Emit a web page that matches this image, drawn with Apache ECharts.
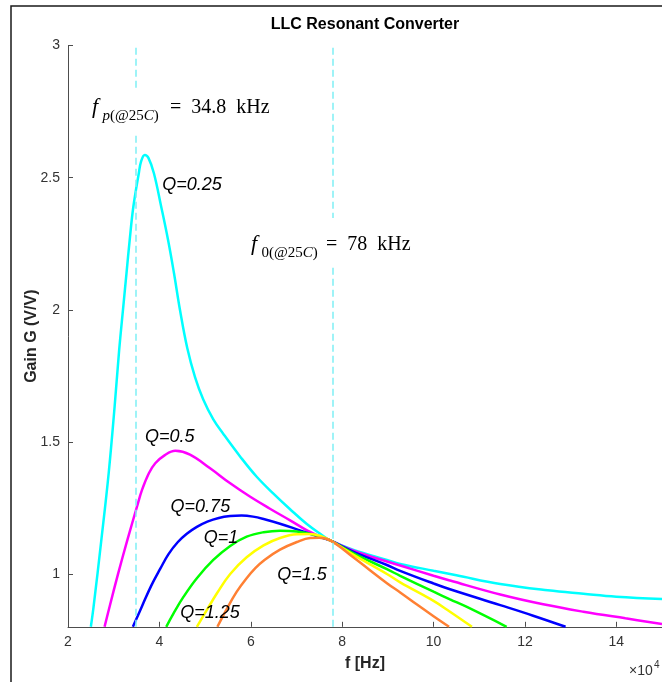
<!DOCTYPE html>
<html><head><meta charset="utf-8">
<script src="https://cdn.jsdelivr.net/npm/echarts@6/dist/echarts.min.js"></script>
<style>html,body{margin:0;padding:0;background:#fff}#c{width:662px;height:682px}</style>
</head><body><div id="c"></div>
<script>
// ---- data (frequency in Hz, gain in V/V) ----
const xTicks = [20000, 40000, 60000, 80000, 100000, 120000, 140000];
const yTicks = [1, 1.5, 2, 2.5, 3];
const markerFreqs = [34800, 78000];

const fQ025 = [25000,25600,27300,28900,30200,31200,32100,32800,33500,34300,35500,36000,36800,37600,38800,40400,41900,43200,44500,46100,47800,49600,51800,54000,57700,61300,64900,68600,72200,75200,77500,82500,89800,92700,100000,105000,114600,125000,132800,140000,150000];
const gQ025 = [0.80,0.876,1.129,1.381,1.633,1.848,2.012,2.138,2.264,2.39,2.517,2.562,2.586,2.575,2.517,2.39,2.264,2.138,2.0,1.855,1.745,1.66,1.585,1.53,1.444,1.368,1.305,1.245,1.19,1.152,1.126,1.091,1.053,1.038,1.012,0.995,0.962,0.938,0.925,0.914,0.905];

const fQ05 = [28000,29100,31000,33000,35100,36200,37700,39100,41200,43500,46700,51100,55500,59800,64200,68600,72300,75200,77500,82500,89800,92700,100000,103600,114600,124000,132800,142000,150000];
const gQ05 = [0.80,0.876,1.003,1.129,1.255,1.318,1.381,1.419,1.45,1.466,1.452,1.40,1.343,1.293,1.247,1.203,1.165,1.142,1.126,1.088,1.047,1.032,0.993,0.975,0.922,0.885,0.857,0.832,0.811];

const fQ075 = [34200,36200,38200,40200,42000,44000,46000,48200,50500,53000,55500,58000,60500,63000,66400,70100,73700,76000,77500,82500,89800,92700,100000,103600,114600,121800,128900];
const gQ075 = [0.80,0.878,0.955,1.02,1.075,1.12,1.152,1.178,1.198,1.212,1.219,1.221,1.217,1.207,1.19,1.169,1.148,1.135,1.126,1.084,1.034,1.012,0.964,0.942,0.882,0.842,0.80];

const fQ1 = [41500,43100,45300,48200,51800,55500,59100,62800,66400,70100,73700,76000,77500,82500,89800,92700,100000,103600,107300,116000];
const gQ1 = [0.80,0.851,0.914,0.984,1.053,1.106,1.141,1.158,1.164,1.161,1.149,1.136,1.126,1.078,1.018,0.993,0.933,0.904,0.875,0.80];

const fQ125 = [48200,50400,52600,55500,59100,62800,66400,70100,73000,75500,77500,82500,89800,92700,100000,103600,108400];
const gQ125 = [0.80,0.864,0.927,1.0,1.063,1.108,1.136,1.15,1.151,1.142,1.126,1.072,1.0,0.968,0.898,0.857,0.80];

const fQ15 = [52700,54700,56900,59000,61000,63000,66400,70100,73000,75000,77500,82500,89800,92700,96300,100000,103400];
const gQ15 = [0.80,0.866,0.932,0.982,1.022,1.053,1.092,1.121,1.136,1.137,1.126,1.062,0.965,0.93,0.885,0.84,0.80];

const qNames = ['Q=0.25','Q=0.5','Q=0.75','Q=1','Q=1.25','Q=1.5'];
const qLabelF = [47160, 42270, 48970, 53500, 51100, 71200];
const qLabelG = [2.472, 1.52, 1.252, 1.135, 0.851, 0.996];

// ---- styling ----
const curveColors = ['#00ffff','#ff00ff','#0000ff','#00ff00','#ffff00','#ff8033'];
const curves = [[fQ025,gQ025],[fQ05,gQ05],[fQ075,gQ075],[fQ1,gQ1],[fQ125,gQ125],[fQ15,gQ15]];
const sans = '"Liberation Sans", Arial, Helvetica, sans-serif';
const serif = '"Liberation Serif", "DejaVu Serif", serif';

const chart = echarts.init(document.getElementById('c'), null, {renderer:'canvas'});

const series = curves.map((c, i) => ({
  type: 'line', name: qNames[i], data: c[0].map((f, k) => [f, c[1][k]]),
  showSymbol: false, smooth: 0.4, z: 3,
  lineStyle: {color: curveColors[i], width: 2.5}, itemStyle: {color: curveColors[i]},
  silent: true
}));
series.push({
  type: 'line', data: [], z: 1, silent: true,
  markLine: {
    symbol: 'none', silent: true, animation: false,
    label: {show: false},
    lineStyle: {color: '#7ff0f5', type: [7, 4], width: 1.5},
    data: markerFreqs.map(f => ({xAxis: f}))
  }
});

// text placed with top alignment: y = baseline - 0.75*fontSize
function mathText(x, base, main, sub, rest, restX, subBase) {
  return [
    {type:'text', x: x, y: base - 16.5, z: 20, style:{text: main, font: 'italic 22px ' + serif, fill:'#000'}},
    {type:'text', x: x + 10.5, y: subBase - 11.25, z: 20, style:{text: sub, fill:'#000',
      rich:{i:{fontStyle:'italic', fontSize:15, fontFamily: serif, fill:'#000'}, r:{fontSize:15, fontFamily: serif, fill:'#000'}}}},
    {type:'text', x: restX, y: base - 15, z: 20, style:{text: rest, font: '20px ' + serif, fill:'#000'}}
  ];
}

const baseGraphics = [
  {type:'rect', z: 0, shape:{x:11, y:6, width:700, height:700}, style:{fill:'none', stroke:'#1a1a1a', lineWidth:1.5}},
  {type:'text', x: 365, y: 25, z: 20, style:{text:'LLC Resonant Converter', font:'bold 16px ' + sans, fill:'#000', textAlign:'center', textVerticalAlign:'middle'}},
  {type:'rect', z: 15, shape:{x:84, y:88, width:190, height:47}, style:{fill:'#fff'}},
  {type:'rect', z: 15, shape:{x:244, y:218, width:172, height:48}, style:{fill:'#fff'}},
  ...mathText(92, 113, 'f', '{i|p}{r|(@25}{i|C}{r|)}', '=\u200234.8\u2002kHz', 170, 119.5),
  ...mathText(251, 250, 'f', '{r|0(@25}{i|C}{r|)}', '=\u200278\u2002kHz', 326, 256.5),
  {type:'text', x: 629, y: 664, z: 20, style:{text:'\u00d710', font:'14px ' + sans, fill:'#333'}},
  {type:'text', x: 654, y: 660.5, z: 20, style:{text:'4', font:'10px ' + sans, fill:'#333'}}
];

chart.setOption({
  animation: false,
  backgroundColor: '#fff',
  grid: {left: 68, right: 0, top: 45.6, bottom: 55.2, containLabel: false},
  xAxis: {
    type: 'value', min: 20000, max: 150000,
    name: 'f [Hz]', nameLocation: 'middle', nameGap: 29, nameMoveOverlap: false,
    nameTextStyle: {fontWeight: 'bold', fontSize: 16, color: '#262626', fontFamily: sans},
    axisLine: {show: true, onZero: false, lineStyle: {color: '#4d4d4d', width: 1}},
    axisTick: {show: true, inside: true, length: 5, customValues: xTicks, lineStyle: {color: '#4d4d4d'}},
    axisLabel: {customValues: xTicks, formatter: v => String(v / 10000), color: '#333', fontSize: 14, margin: 8, fontFamily: sans},
    splitLine: {show: false}
  },
  yAxis: {
    type: 'value', min: 0.8, max: 3,
    name: 'Gain G (V/V)', nameLocation: 'middle', nameGap: 28, nameRotate: 90, nameMoveOverlap: false,
    nameTextStyle: {fontWeight: 'bold', fontSize: 16, color: '#262626', fontFamily: sans},
    axisLine: {show: true, onZero: false, lineStyle: {color: '#4d4d4d', width: 1}},
    axisTick: {show: true, inside: true, length: 5, customValues: yTicks, lineStyle: {color: '#4d4d4d'}},
    axisLabel: {customValues: yTicks, formatter: v => String(v), color: '#333', fontSize: 14, margin: 8, fontFamily: sans},
    splitLine: {show: false}
  },
  series: series,
  graphic: baseGraphics
});

// Q labels anchored at data coordinates through the chart's own scales
const qGraphics = qNames.map((n, i) => {
  const p = chart.convertToPixel({gridIndex: 0}, [qLabelF[i], qLabelG[i]]);
  return {type:'text', x: p[0], y: p[1], z: 18,
    style:{text: n, font: 'italic 18px ' + sans, fill:'#000', textAlign:'center', textVerticalAlign:'middle'}};
});
chart.setOption({graphic: baseGraphics.concat(qGraphics)});
</script>
</body></html>
